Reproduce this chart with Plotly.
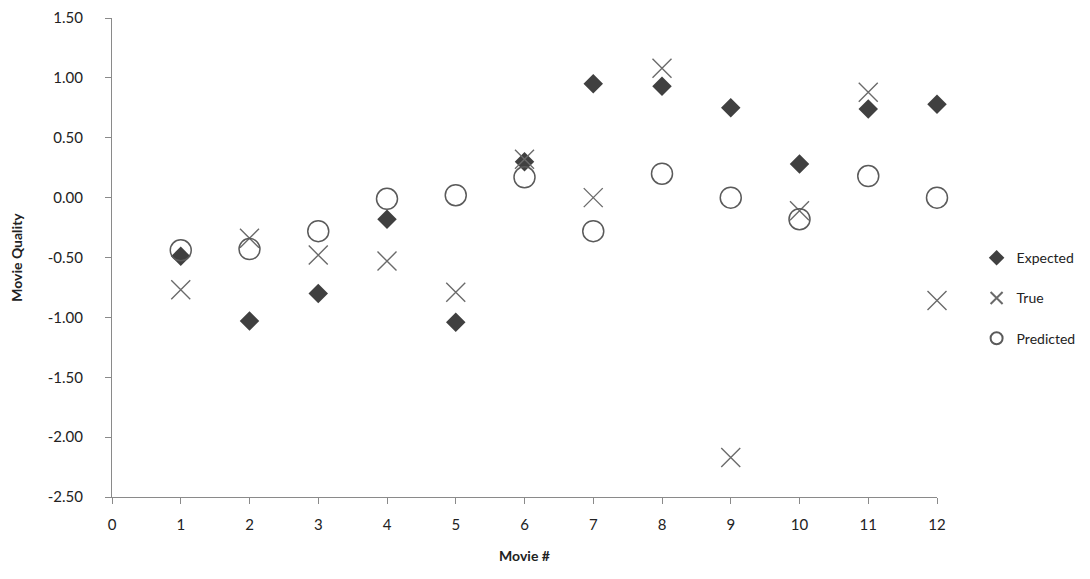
import plotly.graph_objects as go

movies = list(range(1, 13))
expected = [-0.49, -1.03, -0.80, -0.18, -1.04, 0.30, 0.95, 0.93, 0.75, 0.28, 0.74, 0.78]
true_vals = [-0.77, -0.34, -0.48, -0.53, -0.79, 0.32, 0.00, 1.08, -2.17, -0.11, 0.88, -0.86]
predicted = [-0.44, -0.43, -0.28, -0.01, 0.02, 0.17, -0.28, 0.20, 0.00, -0.18, 0.18, 0.00]
y_ticks = [1.5, 1.0, 0.5, 0.0, -0.5, -1.0, -1.5, -2.0, -2.5]
y_tick_text = ["1.50", "1.00", "0.50", "0.00", "-0.50", "-1.00", "-1.50", "-2.00", "-2.50"]

FONT = "Lato, 'Open Sans', sans-serif"

fig = go.Figure()
fig.add_trace(go.Scatter(
    x=movies, y=expected, mode="markers", name="Expected", legendgroup="a", cliponaxis=False,
    marker=dict(symbol="diamond", size=15, color="#404040", line=dict(width=0))))
fig.add_trace(go.Scatter(
    x=movies, y=true_vals, mode="markers", name="True", legendgroup="b", cliponaxis=False,
    marker=dict(symbol="x-thin-open", size=19, color="#6a6a6a", line=dict(width=1.4, color="#6a6a6a"))))
fig.add_trace(go.Scatter(
    x=movies, y=predicted, mode="markers", name="Predicted", legendgroup="c", cliponaxis=False,
    marker=dict(symbol="circle-open", size=21, color="#5a5a5a", line=dict(width=1.5, color="#5a5a5a"))))

fig.update_layout(
    width=1090, height=579,
    margin=dict(l=104, r=161, t=10, b=90, autoexpand=False),
    paper_bgcolor="white", plot_bgcolor="white",
    font=dict(family=FONT, size=14, color="#222"),
    legend=dict(x=1.048, y=0.415, xanchor="left", yanchor="middle",
                tracegroupgap=19, font=dict(size=14, color="#222"),
                itemwidth=30, itemsizing="constant"),
    showlegend=True,
)
fig.update_xaxes(
    range=[0, 12], tickmode="linear", tick0=0, dtick=1,
    showgrid=False, zeroline=False, showline=True, linecolor="#8a8a8a", linewidth=1,
    ticks="outside", ticklen=6, tickcolor="#8a8a8a",
    tickfont=dict(size=15, color="#222"), ticklabelstandoff=8,
    title=dict(text="<b>Movie #</b>", font=dict(size=14, color="#222"), standoff=19),
)
fig.update_yaxes(
    range=[-2.5, 1.5], tickvals=y_ticks, ticktext=y_tick_text,
    showgrid=False, zeroline=False, showline=True, linecolor="#8a8a8a", linewidth=1,
    ticks="outside", ticklen=6, tickcolor="#8a8a8a",
    tickfont=dict(size=15, color="#222"), ticklabelstandoff=19,
    title=dict(text="<b>Movie Quality</b>", font=dict(size=14, color="#222"), standoff=26),
)

fig.write_html("out.html")
